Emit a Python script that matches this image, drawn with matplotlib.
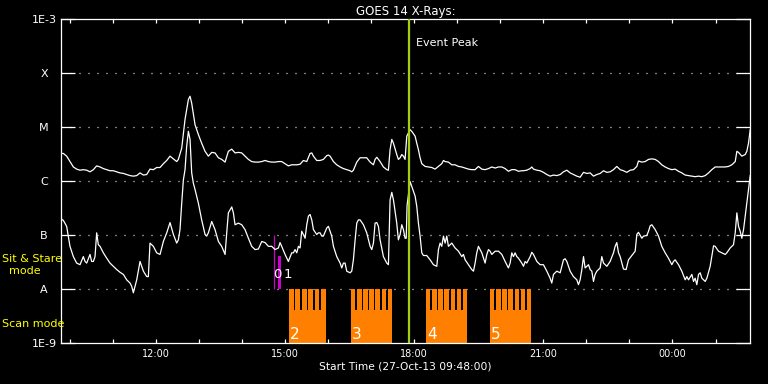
import datetime as dt
import numpy as np
import matplotlib
matplotlib.use("Agg")
import matplotlib.pyplot as plt
from matplotlib.ticker import FixedLocator, FuncFormatter, NullLocator

# ---------------- data ----------------
START = dt.datetime(2013, 10, 27, 9, 48)
DURATION_MIN = 960.0

# GOES 14 long channel (1-8 A), minutes since start, log10 flux (W/m^2)
long_t = [0, 3.3, 7.9, 12.5, 17.2, 21.8, 26.5, 31.1, 35.8, 40.4,
          45.1, 49.7, 54.4, 59.0, 63.7, 68.3, 72.9, 77.6, 82.2, 86.9,
          91.5, 96.2, 100.8, 105.5, 110.1, 114.8, 119.4, 124.0, 128.7, 133.3,
          138.0, 142.6, 147.3, 151.9, 156.6, 161.2,
          163.5, 168.2, 172.8, 177.5, 179.8, 182.1, 186.8, 191.4, 196.0, 200.7,
          205.3, 210.0, 214.6, 219.3, 223.9, 228.6, 233.2, 237.9, 242.5, 247.2,
          251.8, 256.4, 261.1, 265.7, 270.4, 275.0, 279.7, 284.3, 289.0, 293.6,
          298.3, 302.9, 307.5, 312.2, 316.8, 321.5,
          323.8, 328.5, 333.1, 337.7, 342.4, 347.0, 349.4, 351.7, 356.3, 361.0,
          365.6, 370.3, 372.6, 374.9, 379.6, 384.2, 388.9, 393.5, 398.1, 402.8,
          405.1, 407.4, 412.1, 416.7, 421.4, 426.0, 430.7, 435.3, 437.6, 440.0,
          444.6, 449.2, 453.9, 456.2, 458.5, 460.9, 463.2, 467.8, 470.1, 472.5,
          474.8, 477.1, 479.4, 481.8,
          486.4, 488.7, 493.4, 495.7, 498.0, 500.3, 502.7, 507.3, 512.0, 516.6,
          521.2, 525.9, 530.5, 532.9, 535.2, 539.8, 544.5, 549.1, 553.8, 558.4,
          563.1, 567.7, 572.3, 577.0, 581.6, 586.3, 590.9, 595.6, 600.2, 604.9,
          609.5, 614.2, 618.8, 623.4, 628.1, 632.7, 637.4, 642.0,
          644.4, 649.0, 653.7, 656.0, 658.3, 663.0, 667.6, 672.2, 676.9, 681.5,
          686.2, 690.8, 695.5, 700.1, 704.8, 709.4, 714.0, 718.7, 723.3, 728.0,
          732.6, 737.3, 741.9, 746.6, 751.2, 755.9, 760.5, 765.1, 769.8, 774.4,
          779.1, 783.7, 788.4, 793.0, 797.7, 802.3,
          804.6, 809.3, 813.9, 818.6, 823.2, 827.9, 832.5, 837.1, 841.8, 846.4,
          851.1, 855.7, 860.4, 865.0, 869.7, 874.3, 879.0, 883.6, 888.3, 892.9,
          897.6, 902.2, 906.8, 911.5, 916.1, 920.8, 925.4, 930.1, 934.7, 939.4,
          941.7, 944.0, 948.6, 953.3, 955.6, 957.9, 960.3]
long_logf = [-5.49, -5.49, -5.54, -5.64, -5.74, -5.78, -5.80, -5.79, -5.80, -5.83,
             -5.79, -5.72, -5.74, -5.77, -5.79, -5.81, -5.81, -5.83, -5.85, -5.86,
             -5.88, -5.90, -5.91, -5.90, -5.85, -5.89, -5.88, -5.78, -5.79, -5.75,
             -5.75, -5.68, -5.62, -5.54, -5.59, -5.64,
             -5.60, -5.39, -4.86, -4.49, -4.43, -4.56, -4.96, -5.14, -5.30, -5.45,
             -5.54, -5.47, -5.48, -5.57, -5.60, -5.65, -5.45, -5.41, -5.48, -5.47,
             -5.48, -5.54, -5.60, -5.64, -5.65, -5.65, -5.64, -5.62, -5.64, -5.65,
             -5.65, -5.64, -5.64, -5.68, -5.72, -5.70,
             -5.70, -5.70, -5.69, -5.62, -5.64, -5.49, -5.48, -5.54, -5.62, -5.62,
             -5.60, -5.53, -5.52, -5.54, -5.64, -5.70, -5.74, -5.77, -5.79, -5.81,
             -5.83, -5.80, -5.65, -5.57, -5.57, -5.57, -5.65, -5.70, -5.60, -5.56,
             -5.64, -5.74, -5.79, -5.80, -5.42, -5.23, -5.30, -5.51, -5.60, -5.57,
             -5.51, -5.54, -5.60, -5.17,
             -5.05, -5.08, -5.17, -5.30, -5.42, -5.57, -5.68, -5.73, -5.74, -5.75,
             -5.78, -5.73, -5.68, -5.62, -5.64, -5.65, -5.70, -5.70, -5.73, -5.74,
             -5.76, -5.78, -5.79, -5.79, -5.73, -5.78, -5.79, -5.77, -5.74, -5.76,
             -5.74, -5.74, -5.77, -5.82, -5.79, -5.79, -5.82, -5.81,
             -5.81, -5.80, -5.77, -5.74, -5.78, -5.80, -5.81, -5.84, -5.88, -5.91,
             -5.89, -5.90, -5.88, -5.83, -5.80, -5.85, -5.88, -5.91, -5.93, -5.84,
             -5.86, -5.85, -5.91, -5.88, -5.86, -5.81, -5.84, -5.83, -5.79, -5.73,
             -5.79, -5.81, -5.84, -5.80, -5.79, -5.73,
             -5.63, -5.65, -5.64, -5.60, -5.59, -5.60, -5.64, -5.70, -5.74, -5.77,
             -5.79, -5.78, -5.82, -5.85, -5.89, -5.90, -5.91, -5.92, -5.91, -5.92,
             -5.90, -5.85, -5.79, -5.74, -5.74, -5.74, -5.74, -5.73, -5.70, -5.64,
             -5.45, -5.47, -5.54, -5.51, -5.45, -5.30, -5.05]

# GOES 14 short channel (0.5-4 A)
short_t = [0, 3.3, 7.9, 10.2, 12.5, 17.2, 21.8, 26.5, 31.1, 33.5,
           35.8, 40.4, 42.7, 45.1, 47.4, 49.7, 52.0, 54.4, 59.0, 63.7,
           68.3, 72.9, 77.6, 82.2, 86.9, 91.5, 96.2, 98.5, 100.8, 105.5,
           110.1, 114.8, 119.4, 121.7, 124.0, 128.7, 133.3, 138.0, 142.6, 147.3,
           151.9, 156.6, 161.2,
           163.5, 165.8, 168.2, 170.5, 172.8, 175.1, 177.5, 179.8, 182.1, 184.4,
           186.8, 191.4, 196.0, 200.7, 203.0, 205.3, 210.0, 214.6, 219.3, 223.9,
           228.6, 230.9, 233.2, 237.9, 240.2, 242.5, 247.2, 251.8, 256.4, 261.1,
           265.7, 270.4, 275.0, 279.7, 284.3, 289.0, 293.6, 298.3, 302.9, 305.2,
           307.5, 312.2, 316.8, 321.5,
           323.8, 326.1, 328.5, 330.8, 333.1, 335.4, 337.7, 340.1, 342.4, 344.7,
           347.0, 349.4, 351.7, 356.3, 358.7, 361.0, 363.3, 365.6, 370.3, 372.6,
           374.9, 377.2, 379.6, 384.2, 388.9, 391.2, 393.5, 395.8, 398.1, 402.8,
           405.1, 407.4, 409.8, 412.1, 414.4, 416.7, 421.4, 426.0, 430.7, 433.0,
           435.3, 437.6, 440.0, 442.3, 444.6, 449.2, 453.9, 456.2, 458.5, 460.9,
           463.2, 467.8, 470.1, 472.5, 474.8, 477.1, 479.4, 481.0, 482.2,
           486.4, 488.7, 493.4, 495.7, 498.0, 500.3, 502.7, 505.0, 509.6, 514.3,
           518.9, 523.6, 525.9, 528.2, 530.5, 532.9, 535.2, 537.5, 539.8, 544.5,
           549.1, 553.8, 558.4, 560.7, 563.1, 567.7, 572.3, 574.7, 577.0, 579.3,
           581.6, 586.3, 590.9, 593.3, 595.6, 597.9, 600.2, 604.9, 609.5, 614.2,
           618.8, 623.4, 625.8, 628.1, 630.4, 632.7, 635.1, 637.4, 642.0,
           644.4, 646.7, 649.0, 653.7, 656.0, 658.3, 663.0, 667.6, 672.2, 676.9,
           681.5, 683.8, 686.2, 690.8, 695.5, 700.1, 702.4, 704.8, 709.4, 714.0,
           718.7, 721.0, 723.3, 725.7, 728.0, 730.3, 732.6, 735.0, 737.3, 739.6,
           741.9, 744.2, 746.6, 748.9, 751.2, 753.5, 755.9, 760.5, 765.1, 769.8,
           772.1, 774.4, 776.8, 779.1, 783.7, 787.4, 790.7, 795.3, 800.0,
           802.3, 804.6, 809.3, 811.6, 816.2, 818.6, 820.9, 823.2, 827.9, 832.5,
           837.1, 841.8, 846.4, 851.1, 853.4, 855.7, 860.4, 865.0, 869.7, 872.0,
           874.3, 879.0, 881.3, 883.6, 885.9, 888.3, 890.6, 892.9, 897.6, 899.9,
           904.5, 909.2, 911.5, 916.1, 920.8, 925.4, 927.7, 932.4, 937.0, 939.4,
           941.7, 944.0, 946.3, 948.6, 951.0, 953.3, 955.6, 957.9, 960.3]
short_logf = [-6.70, -6.73, -6.84, -7.02, -7.21, -7.40, -7.52, -7.55, -7.40, -7.49,
              -7.52, -7.36, -7.49, -7.49, -7.40, -6.96, -7.18, -7.21, -7.33, -7.43,
              -7.52, -7.58, -7.64, -7.69, -7.73, -7.83, -7.89, -7.95, -8.07, -7.83,
              -7.49, -7.67, -7.77, -7.77, -7.15, -7.21, -7.33, -7.36, -7.12, -6.96,
              -6.77, -6.99, -7.15,
              -7.09, -6.90, -6.41, -5.98, -5.79, -5.36, -5.08, -5.23, -5.85, -6.04,
              -6.16, -6.41, -6.72, -6.99, -7.02, -6.96, -6.75, -6.90, -7.12, -7.21,
              -7.36, -6.96, -6.59, -6.48, -6.59, -6.81, -6.78, -6.81, -6.90, -7.06,
              -7.21, -7.27, -7.26, -7.12, -7.14, -7.21, -7.21, -7.27, -7.24, -7.14,
              -7.21, -7.36, -7.49, -7.33,
              -7.33, -7.27, -7.33, -7.21, -7.24, -6.93, -6.99, -7.06, -6.81, -6.65,
              -6.62, -6.72, -6.90, -6.99, -6.96, -6.96, -7.02, -7.02, -6.87, -6.84,
              -6.93, -7.02, -7.21, -7.40, -7.52, -7.61, -7.52, -7.52, -7.67, -7.70,
              -7.67, -7.46, -7.09, -6.78, -6.72, -6.72, -6.81, -6.96, -7.21, -7.27,
              -7.15, -6.78, -6.77, -6.84, -7.09, -7.40, -7.52, -7.55, -6.35, -6.21,
              -6.35, -6.78, -7.09, -6.99, -6.81, -6.90, -7.06, -7.06, -6.45,
              -6.01, -6.10, -6.28, -6.47, -6.78, -7.02, -7.33, -7.38, -7.38, -7.46,
              -7.55, -7.58, -7.27, -7.15, -7.21, -7.02, -7.15, -7.02, -7.21, -7.15,
              -7.24, -7.30, -7.40, -7.36, -7.46, -7.55, -7.64, -7.67, -7.52, -7.33,
              -7.21, -7.33, -7.52, -7.36, -7.27, -7.30, -7.36, -7.30, -7.30, -7.36,
              -7.49, -7.61, -7.52, -7.33, -7.40, -7.33, -7.40, -7.43, -7.52,
              -7.58, -7.49, -7.52, -7.40, -7.32, -7.36, -7.49, -7.55, -7.55, -7.67,
              -7.80, -7.89, -7.73, -7.67, -7.70, -7.46, -7.44, -7.49, -7.67, -7.77,
              -7.83, -7.92, -7.83, -7.64, -7.40, -7.61, -7.58, -7.55, -7.64, -7.67,
              -7.86, -7.73, -7.67, -7.64, -7.61, -7.40, -7.52, -7.58, -7.49, -7.33,
              -7.21, -7.14, -7.33, -7.40, -7.63, -7.64, -7.46, -7.38, -7.30,
              -6.99, -6.95, -7.06, -7.02, -7.01, -6.93, -6.83, -6.81, -6.90, -7.02,
              -7.21, -7.33, -7.43, -7.55, -7.49, -7.46, -7.55, -7.67, -7.83, -7.77,
              -7.83, -7.73, -7.86, -7.80, -7.92, -7.73, -7.70, -7.80, -7.86, -7.80,
              -7.58, -7.20, -7.21, -7.30, -7.33, -7.36, -7.33, -7.24, -7.18, -6.96,
              -6.59, -6.84, -6.93, -7.06, -6.90, -6.65, -6.41, -6.16, -5.90]

event_peak_t = 484.6

# Sit & Stare observations: 0 = line, 1 = short bar
sit_line_t = 297.3
sit_line_range = (1e-8, 1e-7)
sit_bar_start, sit_bar_end = 302.4, 306.6
sit_bar_top = 4.1e-8
sit_labels = ["0", "1"]

# Scan mode rasters
scan_start = [317.8, 404.2, 508.7, 597.9]
scan_end = [369.0, 461.3, 565.8, 655.0]
scan_steps = [6, 7, 7, 7]
scan_labels = ["2", "3", "4", "5"]
scan_base_top = 4.1e-9
scan_step_top = 1e-8
scan_gap_min = 2.4

ytick_vals = [1e-9, 1e-8, 1e-7, 1e-6, 1e-5, 1e-4, 1e-3]
ytick_labels = ["1E-9", "A", "B", "C", "M", "X", "1E-3"]
grid_levels = [1e-8, 1e-7, 1e-6, 1e-5, 1e-4]

# ---------------- figure ----------------
W, H = 768, 384
fig = plt.figure(figsize=(W / 100, H / 100), dpi=100, facecolor="black")
ax = fig.add_axes([61 / W, 41 / H, 689 / W, 324 / H])
ax.set_facecolor("black")

ORANGE = "#ff8000"
MAGENTA = "#cc00cc"
EVENT = "#a0d010"
YELLOW = "#ffff00"

ax.set_yscale("log")
ax.set_ylim(1e-9, 1e-3)
ax.set_xlim(0, DURATION_MIN)

for lev in grid_levels:
    ax.axhline(lev, color="white", lw=0.9, ls=(0, (0.8, 6.4)), zorder=1)

ax.plot(long_t, 10 ** np.array(long_logf), color="white", lw=0.9, zorder=3)
ax.plot(short_t, 10 ** np.array(short_logf), color="white", lw=0.9, zorder=3)

# scan-mode blocks
for s, e, n, lab in zip(scan_start, scan_end, scan_steps, scan_labels):
    d = e - s
    ax.bar(s, scan_base_top - 1e-9, bottom=1e-9, width=d, align="edge",
           color=ORANGE, lw=0, zorder=2)
    w = (d - (n - 1) * scan_gap_min) / n
    for i in range(n):
        ax.bar(s + i * (w + scan_gap_min), scan_step_top - 1e-9, bottom=1e-9,
               width=w, align="edge", color=ORANGE, lw=0, zorder=2)
    ax.text(s + 1.4, 1.19e-9, lab, color="white", fontsize=11,
            ha="left", va="baseline", zorder=5)

# sit & stare
ax.vlines(sit_line_t, *sit_line_range, color=MAGENTA, lw=0.9, zorder=2)
ax.bar(sit_bar_start, sit_bar_top - 1e-8, bottom=1e-8,
       width=sit_bar_end - sit_bar_start, align="edge", color=MAGENTA, lw=0, zorder=2)
ax.text(sit_line_t - 1.6, 1.6e-8, sit_labels[0], color="white", fontsize=9.5,
        ha="left", va="baseline", zorder=5)
ax.text(sit_bar_start + 7.5, 1.6e-8, sit_labels[1], color="white", fontsize=9.5,
        ha="left", va="baseline", zorder=5)

# event peak
ax.axvline(event_peak_t, color=EVENT, lw=1.6, zorder=4)
ax.annotate("Event Peak", xy=(event_peak_t, 0.926), xycoords=("data", "axes fraction"),
            xytext=(5.5, 0), textcoords="offset points", color="white", fontsize=8,
            ha="left", va="center")

# axes styling
for sp in ax.spines.values():
    sp.set_color("white")
    sp.set_linewidth(0.9)

ax.yaxis.set_major_locator(FixedLocator(ytick_vals))
ax.yaxis.set_minor_locator(NullLocator())
ax.set_yticklabels(ytick_labels)
for lbl in ax.get_yticklabels():
    lbl.set_horizontalalignment("center")
ax.tick_params(axis="y", which="major", direction="in", length=10, width=0.9,
               colors="white", left=True, right=True, pad=12.2, labelsize=8)

first_hour = (60 - START.minute) % 60
hour_ticks = np.arange(first_hour, DURATION_MIN + 0.1, 60)
label_ticks = [t for t in hour_ticks
               if (START + dt.timedelta(minutes=float(t))).hour % 3 == 0]
ax.xaxis.set_major_locator(FixedLocator(label_ticks))
ax.xaxis.set_minor_locator(FixedLocator(hour_ticks))
ax.xaxis.set_major_formatter(FuncFormatter(
    lambda v, p: (START + dt.timedelta(minutes=float(v))).strftime("%H:%M")))
ax.tick_params(axis="x", which="both", direction="in", length=3, width=0.9,
               colors="white", bottom=True, top=True, labelsize=7, pad=4)

ax.set_title("GOES 14 X-Rays:", color="white", fontsize=8.5, pad=3.2)
ax.set_xlabel("Start Time (%s)" % START.strftime("%d-%b-%y %H:%M:%S"),
              color="white", fontsize=7.7, labelpad=2)

fig.text(2 / W, 1 - 259 / H, "Sit & Stare", color=YELLOW, fontsize=8,
         ha="left", va="center")
fig.text(24.5 / W, 1 - 271 / H, "mode", color=YELLOW, fontsize=8,
         ha="center", va="center")
fig.text(2 / W, 1 - 324 / H, "Scan mode", color=YELLOW, fontsize=8,
         ha="left", va="center")

fig.savefig("out.png", dpi=100, facecolor="black")
